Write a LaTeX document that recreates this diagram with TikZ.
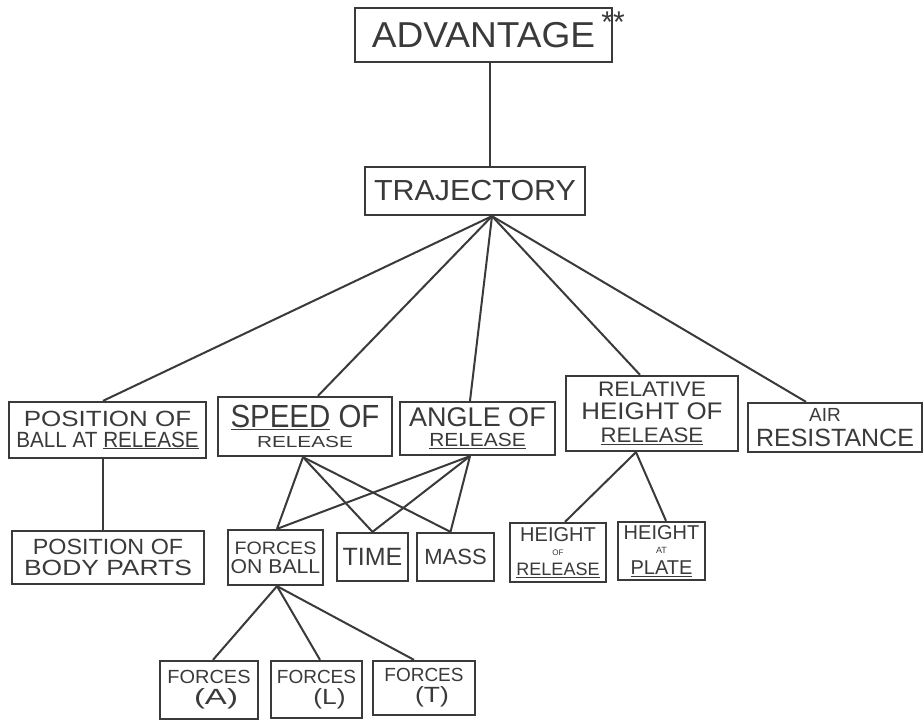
\documentclass[tikz,border=0pt]{standalone}
\usepackage{fontspec}
\usepackage{graphicx}
\setmainfont{Liberation Sans}
\usetikzlibrary{calc}
\newcommand\sx[2]{\scalebox{#1}[1]{#2}}
\newcommand\fs[1]{\fontsize{#1}{#1}\selectfont}
\definecolor{pencil}{HTML}{3A3A3A}
\begin{document}
\begin{tikzpicture}[x=1pt,y=-1pt,
  box/.style={draw=pencil, line width=2.3pt, inner sep=0pt, align=center, text=pencil},
  link/.style={draw=pencil, line width=2pt}]
\useasboundingbox[fill=white] (0,0) rectangle (924,720);
% level 0 / 1
\node[box, minimum width=257pt, minimum height=54pt, font=\fs{36}] (adv) at (483.5,35) {\sx{1.03}{ADVANTAGE}};
\node[text=pencil, font=\fs{30}, inner sep=0pt] (stars) at ([xshift=0pt,yshift=-15pt]adv.north east) {**};
\node[box, minimum width=220pt, minimum height=48pt, font=\fs{29}] (traj) at (475,191) {\sx{1.05}{TRAJECTORY}};
% level 2
\node[box, minimum width=197pt, minimum height=56pt, font=\fs{21}] (posb) at (107.5,430)
  {\sx{1.18}{{\fs{22}POSITION OF}}\\[0pt]\sx{0.94}{{\fs{22}BALL AT \underline{RELEASE}}}};
\node[box, minimum width=174pt, minimum height=59pt, font=\fs{26}] (spd) at (305,426.5)
  {\sx{0.92}{{\fs{32}\underline{SPEED} OF}}\\[-6pt]\sx{1.3}{{\fs{16}RELEASE}}};
\node[box, minimum width=155pt, minimum height=53pt, font=\fs{24}] (ang) at (477.5,428.5)
  {{\fs{27}ANGLE OF}\\[-4pt]\sx{1.1}{{\fs{19}\underline{RELEASE}}}};
\node[box, minimum width=172pt, minimum height=75pt, font=\fs{23}] (rel) at (652,413.5)
  {\sx{1.08}{{\fs{21}RELATIVE}}\\\sx{1.08}{{\fs{24}HEIGHT OF}}\\\sx{1.06}{{\fs{21}\underline{RELEASE}}}};
\node[box, minimum width=174pt, minimum height=49pt, font=\fs{22}] (air) at (835,427.5)
  {\hspace*{-20pt}{\fs{19}AIR}\\[3pt]{\fs{25}RESISTANCE}};
% level 3
\node[box, minimum width=192pt, minimum height=53pt, font=\fs{22}] (pbody) at (108,557.5)
  {\sx{1.06}{POSITION OF}\\[-1pt]\sx{1.2}{BODY PARTS}};
\node[box, minimum width=95pt, minimum height=55pt, font=\fs{20}] (fob) at (275.5,557.5)
  {\sx{1.09}{{\fs{18}FORCES}}\\[-1pt]\sx{1.06}{ON BALL}};
\node[box, minimum width=71pt, minimum height=48pt, font=\fs{25}] (time) at (372.5,557) {TIME};
\node[box, minimum width=77pt, minimum height=48pt, font=\fs{22}] (mass) at (455.5,557) {MASS};
\node[box, minimum width=96pt, minimum height=59pt, font=\fs{12}] (hrel) at (558,552.5)
  {{\fs{20}HEIGHT}\\[2pt]{\fs{8}OF}\\[6pt]{\fs{18}\underline{RELEASE}}};
\node[box, minimum width=87pt, minimum height=58pt, font=\fs{12}] (hpl) at (661.5,551)
  {{\fs{20}HEIGHT}\\[2pt]{\fs{9}AT}\\[7pt]{\fs{20}\underline{PLATE}}};
% level 4
\node[box, minimum width=98pt, minimum height=58pt, font=\fs{22}] (fa) at (209,690)
  {\sx{1.05}{{\fs{19}FORCES}}\\[-1pt]\hspace*{14pt}\sx{1.5}{(A)}};
\node[box, minimum width=91pt, minimum height=57pt, font=\fs{22}] (fl) at (316.5,689.5)
  {\sx{1.0}{{\fs{19}FORCES}}\\[-1pt]\hspace*{26pt}\sx{1.2}{(L)}};
\node[box, minimum width=102pt, minimum height=54pt, font=\fs{22}] (ft) at (424,688)
  {\sx{1.0}{{\fs{19}FORCES}}\\[-1pt]\hspace*{16pt}\sx{1.2}{(T)}};
% connectors
\draw[link] ([xshift=6.5pt]adv.south) -- ([xshift=15pt]traj.north);
\coordinate (fan) at ([xshift=17pt]traj.south);
\draw[link] (fan) -- ([xshift=-4.5pt]posb.north);
\draw[link] (fan) -- ([xshift=13pt]spd.north);
\draw[link] (fan) -- ([xshift=-7.5pt]ang.north);
\draw[link] (fan) -- ([xshift=-12pt]rel.north);
\draw[link] (fan) -- ([xshift=-29pt]air.north);
\draw[link] ([xshift=-4.5pt]posb.south) -- ([xshift=-5pt]pbody.north);
\coordinate (sp) at ([xshift=-2pt]spd.south);
\coordinate (an) at ([xshift=-7.5pt]ang.south);
\draw[link] (sp) -- ([xshift=1.5pt]fob.north);
\draw[link] (sp) -- (time.north);
\draw[link] (sp) -- ([xshift=-5pt]mass.north);
\draw[link] (an) -- ([xshift=1.5pt]fob.north);
\draw[link] (an) -- (time.north);
\draw[link] (an) -- ([xshift=-5pt]mass.north);
\coordinate (rb) at ([xshift=-16pt]rel.south);
\draw[link] (rb) -- ([xshift=7pt]hrel.north);
\draw[link] (rb) -- ([xshift=4.5pt]hpl.north);
\coordinate (fb) at ([xshift=1.5pt]fob.south);
\draw[link] (fb) -- ([xshift=4pt]fa.north);
\draw[link] (fb) -- ([xshift=3.5pt]fl.north);
\draw[link] (fb) -- ([xshift=-10pt]ft.north);
\end{tikzpicture}
\end{document}
